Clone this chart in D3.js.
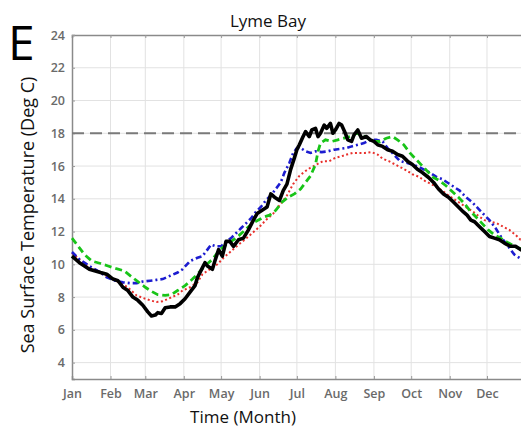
<!DOCTYPE html>
<html>
<head>
<meta charset="utf-8">
<script src="https://cdn.jsdelivr.net/npm/d3@7"></script>
<style>
  body { margin: 0; background: #fff; }
  svg { display: block; }
</style>
</head>
<body>
<script>
// month ticks (day of year) and labels
var monthDays = [0, 31, 59, 90, 120, 151, 181, 212, 243, 273, 304, 334];
var monthLabels = ["Jan", "Feb", "Mar", "Apr", "May", "Jun", "Jul", "Aug", "Sep", "Oct", "Nov", "Dec"];
var tempTicks = [4, 6, 8, 10, 12, 14, 16, 18, 20, 22, 24];
var threshold = 18;

// observed (black)
var obsDays = [0, 6, 14, 23, 28, 33, 37, 41, 45, 49, 53, 57, 61, 64, 67, 69, 72, 75, 79, 83, 87, 91, 95, 99, 101, 105, 107, 109, 113, 115, 118, 121, 124, 127, 130, 134, 138, 142, 146, 149, 153, 157, 160, 163, 167, 170, 173, 176, 179, 181, 183, 186, 188, 191, 193, 196, 198, 200, 203, 205, 208, 210, 212, 215, 217, 220, 222, 225, 227, 230, 233, 237, 240, 243, 246, 250, 254, 258, 262, 266, 270, 274, 278, 282, 287, 291, 295, 299, 303, 307, 311, 315, 318, 321, 324, 328, 332, 336, 340, 344, 348, 353, 357, 361, 365];
var obsTemp = [10.5, 10.1, 9.7, 9.5, 9.4, 9.1, 9.0, 8.6, 8.4, 8.0, 7.8, 7.5, 7.1, 6.85, 6.9, 7.05, 7.0, 7.35, 7.4, 7.4, 7.6, 7.9, 8.3, 8.7, 9.2, 9.8, 10.1, 9.9, 9.7, 10.2, 10.9, 10.5, 11.4, 11.4, 11.1, 11.5, 11.6, 12.1, 12.7, 13.1, 13.3, 13.5, 14.3, 14.1, 13.9, 14.5, 14.9, 15.8, 16.5, 17.0, 17.3, 17.8, 18.1, 17.8, 18.2, 18.3, 17.8, 18.0, 18.5, 18.3, 18.6, 18.0, 18.2, 18.6, 18.5, 18.0, 17.6, 17.5, 17.9, 18.2, 17.7, 17.8, 17.6, 17.5, 17.3, 17.2, 17.0, 16.9, 16.7, 16.6, 16.3, 16.1, 15.8, 15.6, 15.3, 15.0, 14.6, 14.3, 14.1, 13.8, 13.5, 13.2, 13.0, 12.7, 12.6, 12.3, 12.0, 11.7, 11.6, 11.5, 11.3, 11.1, 11.1, 10.9, 10.8];

// model run (blue, dash-dot)
var blueDays = [0, 6, 14, 23, 28, 35, 41, 47, 52, 57, 63, 68, 73, 79, 85, 89, 95, 101, 105, 109, 112, 116, 120, 124, 128, 132, 136, 140, 144, 148, 152, 156, 160, 164, 168, 171, 175, 178, 181, 184, 188, 192, 196, 201, 206, 211, 216, 221, 225, 230, 235, 240, 245, 250, 254, 259, 264, 269, 274, 279, 283, 288, 293, 298, 303, 307, 312, 317, 322, 327, 332, 336, 341, 346, 351, 356, 361, 365];
var blueTemp = [10.75, 10.3, 9.9, 9.5, 9.2, 9.0, 8.9, 8.85, 8.85, 8.95, 9.0, 9.05, 9.1, 9.3, 9.5, 9.7, 10.2, 10.4, 10.5, 10.9, 11.2, 11.1, 11.1, 11.4, 11.6, 11.9, 12.2, 12.5, 12.8, 13.2, 13.5, 13.9, 14.2, 14.6, 15.0, 15.6, 16.2, 16.8, 17.1, 17.1, 16.9, 16.8, 16.9, 16.85, 16.9, 17.0, 17.05, 17.1, 17.2, 17.3, 17.4, 17.6, 17.6, 17.5, 17.1, 16.7, 16.3, 16.2, 16.1, 15.95, 15.8, 15.6, 15.35, 15.2, 14.95, 14.75, 14.5, 14.1, 13.8, 13.4, 13.0, 12.7, 12.2, 11.6, 11.1, 10.6, 10.35, 10.5];

// model run (green, dashed)
var greenDays = [0, 5, 10, 16, 23, 29, 35, 42, 47, 53, 59, 64, 69, 75, 80, 85, 91, 97, 101, 107, 113, 119, 126, 132, 138, 145, 150, 155, 159, 164, 169, 174, 179, 184, 188, 192, 196, 198, 200, 204, 209, 214, 219, 224, 229, 233, 238, 243, 248, 253, 258, 262, 267, 272, 277, 282, 287, 291, 296, 301, 306, 311, 316, 320, 325, 330, 335, 340, 345, 349, 354, 359, 365];
var greenTemp = [11.6, 11.1, 10.6, 10.2, 10.05, 9.9, 9.75, 9.6, 9.3, 8.95, 8.6, 8.35, 8.15, 8.1, 8.15, 8.4, 8.7, 9.1, 9.4, 9.9, 10.3, 10.9, 11.3, 11.6, 12.0, 12.5, 12.7, 12.9, 13.0, 13.3, 13.8, 14.1, 14.3, 14.6, 15.0, 15.4, 16.1, 16.9, 17.4, 17.6, 17.5, 17.6, 17.7, 17.8, 18.0, 17.9, 17.7, 17.5, 17.5, 17.7, 17.8, 17.6, 17.3, 16.8, 16.4, 16.0, 15.6, 15.3, 15.1, 14.8, 14.45, 14.1, 13.7, 13.3, 12.9, 12.5, 12.1, 11.8, 11.6, 11.4, 11.2, 11.0, 10.9];

// model run (red, dotted)
var redDays = [0, 6, 14, 20, 26, 31, 36, 41, 47, 52, 57, 63, 68, 73, 79, 85, 89, 95, 101, 105, 111, 117, 122, 128, 134, 139, 145, 151, 156, 162, 167, 173, 178, 183, 188, 192, 197, 202, 207, 212, 217, 221, 226, 231, 236, 241, 246, 250, 255, 260, 265, 270, 274, 279, 284, 289, 294, 299, 303, 308, 313, 318, 323, 328, 332, 337, 342, 347, 352, 357, 361, 365];
var redTemp = [10.7, 10.3, 9.8, 9.6, 9.35, 9.2, 8.95, 8.8, 8.45, 8.1, 7.95, 7.8, 7.7, 7.75, 7.95, 8.15, 8.4, 8.6, 8.9, 9.4, 9.7, 10.0, 10.4, 10.8, 11.2, 11.5, 11.9, 12.3, 12.7, 13.1, 13.6, 14.2, 14.9, 15.4, 15.7, 15.9, 16.1, 16.3, 16.3, 16.5, 16.6, 16.7, 16.8, 16.8, 16.8, 16.85, 16.7, 16.45, 16.3, 16.1, 15.9, 15.7, 15.5, 15.35, 15.1, 14.9, 14.7, 14.45, 14.2, 13.95, 13.7, 13.45, 13.2, 12.9, 12.7, 12.6, 12.5, 12.3, 12.1, 11.8, 11.5, 11.4];

var W = 521, H = 428;
var svg = d3.select("body").append("svg")
    .attr("width", W)
    .attr("height", H);

var x = d3.scaleLinear().domain([0, 365]).range([72, 525.5]);
var y = d3.scaleLinear().domain([3, 24]).range([379, 35]);

var font = "'Open Sans', 'DejaVu Sans', sans-serif";

// grid
svg.append("g").selectAll("line.v")
    .data(monthDays.slice(1))
    .enter().append("line")
    .attr("x1", function(d){ return x(d); })
    .attr("x2", function(d){ return x(d); })
    .attr("y1", y(24)).attr("y2", y(3))
    .attr("stroke", "#e2e2e2").attr("stroke-width", 1);

svg.append("g").selectAll("line.h")
    .data(tempTicks.filter(function(t){ return t < 24; }))
    .enter().append("line")
    .attr("x1", x(0)).attr("x2", W)
    .attr("y1", function(d){ return y(d); })
    .attr("y2", function(d){ return y(d); })
    .attr("stroke", "#e2e2e2").attr("stroke-width", 1);

// axes
var xAxis = svg.append("g")
    .attr("transform", "translate(0," + y(3) + ")")
    .call(d3.axisBottom(x).tickValues(monthDays)
        .tickFormat(function(d, i){ return monthLabels[i]; })
        .tickSize(-3).tickPadding(10));
xAxis.select(".domain").attr("stroke", "#8a8a8a").attr("stroke-width", 1.5);

var xTop = svg.append("g")
    .attr("transform", "translate(0," + y(24) + ")")
    .call(d3.axisTop(x).tickValues(monthDays).tickFormat("").tickSize(-3));
xTop.select(".domain").attr("stroke", "#8a8a8a").attr("stroke-width", 1.5);

var yAxis = svg.append("g")
    .attr("transform", "translate(" + x(0) + ",0)")
    .call(d3.axisLeft(y).tickValues(tempTicks).tickSize(-3).tickPadding(7));
yAxis.select(".domain").attr("stroke", "#8a8a8a").attr("stroke-width", 1.5);

svg.selectAll(".tick line").attr("stroke", "#9a9a9a");
svg.selectAll(".tick text")
    .attr("fill", "#6a6a6a")
    .style("font-family", font)
    .style("font-size", "12.5px")
    .style("font-weight", "600");

// 18 degree reference line
svg.append("line")
    .attr("x1", x(0)).attr("x2", W)
    .attr("y1", y(threshold)).attr("y2", y(threshold))
    .attr("stroke", "#7a7a7a")
    .attr("stroke-width", 2)
    .attr("stroke-dasharray", "12,6");

var line = d3.line()
    .x(function(d){ return x(d[0]); })
    .y(function(d){ return y(d[1]); });

function pairs(days, temps){
    return days.map(function(d, i){ return [d, temps[i]]; });
}

svg.append("path")
    .attr("d", line(pairs(redDays, redTemp)))
    .attr("fill", "none").attr("stroke", "#e8302c")
    .attr("stroke-width", 2).attr("stroke-dasharray", "2,2.5");

svg.append("path")
    .attr("d", line(pairs(blueDays, blueTemp)))
    .attr("fill", "none").attr("stroke", "#1c1cd0")
    .attr("stroke-width", 2.6).attr("stroke-dasharray", "6,3,2,3");

svg.append("path")
    .attr("d", line(pairs(greenDays, greenTemp)))
    .attr("fill", "none").attr("stroke", "#18c418")
    .attr("stroke-width", 2.8).attr("stroke-dasharray", "7,4");

svg.append("path")
    .attr("d", line(pairs(obsDays, obsTemp)))
    .attr("fill", "none").attr("stroke", "#000")
    .attr("stroke-width", 3.6).attr("stroke-linejoin", "round");

// labels
svg.append("text")
    .attr("x", 268).attr("y", 27)
    .attr("text-anchor", "middle")
    .style("font-family", font).style("font-size", "17px")
    .attr("fill", "#111")
    .text("Lyme Bay");

svg.append("text")
    .attr("x", 8).attr("y", 60)
    .style("font-family", font).style("font-size", "48px")
    .attr("fill", "#000")
    .text("E");

svg.append("text")
    .attr("transform", "translate(34,215) rotate(-90)")
    .attr("text-anchor", "middle")
    .style("font-family", font).style("font-size", "18px")
    .attr("fill", "#111")
    .text("Sea Surface Temperature (Deg C)");

svg.append("text")
    .attr("x", 243).attr("y", 423)
    .attr("text-anchor", "middle")
    .style("font-family", font).style("font-size", "17px")
    .attr("fill", "#111")
    .text("Time (Month)");
</script>
</body>
</html>
